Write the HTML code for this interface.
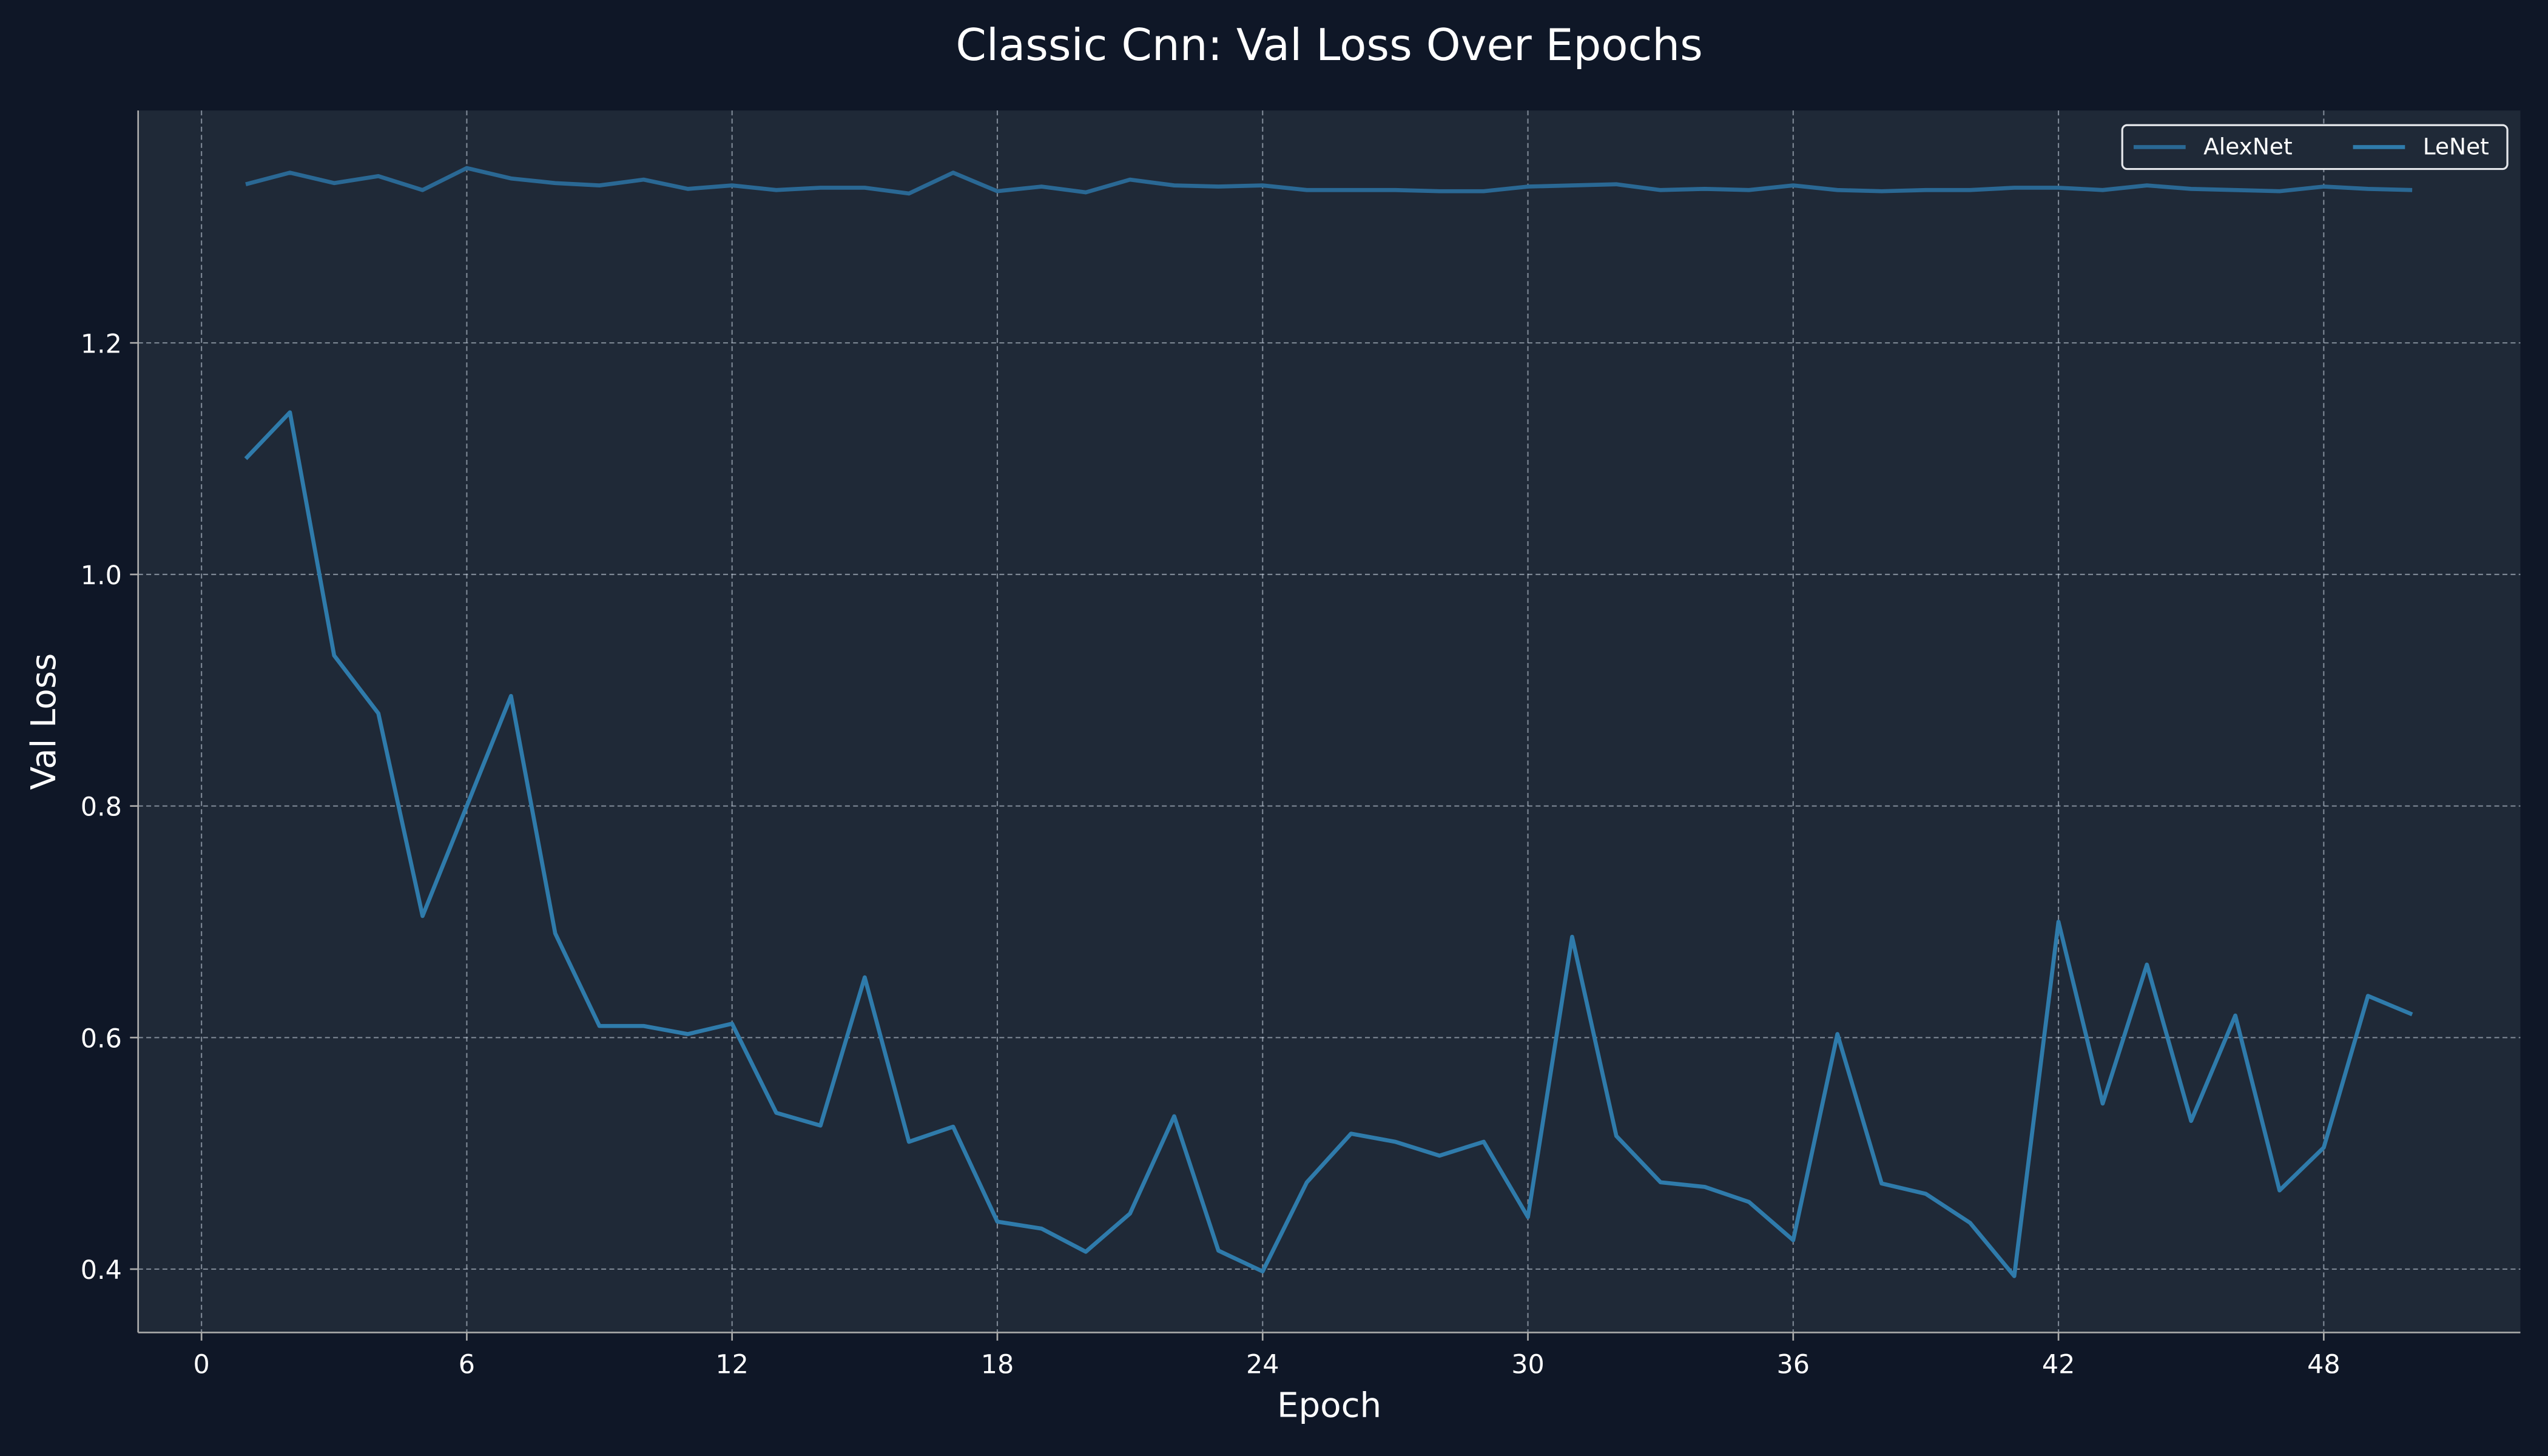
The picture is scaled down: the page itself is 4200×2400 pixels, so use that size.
<!DOCTYPE html>
<html><head><meta charset="utf-8"><style>
html,body{margin:0;padding:0;background:#0f1727;}
svg{display:block;font-family:"DejaVu Sans","Liberation Sans",sans-serif;}
</style></head><body>
<svg id="chart" width="4200" height="2400" viewBox="0 0 1568 896" xmlns="http://www.w3.org/2000/svg">
<rect x="0" y="0" width="1568" height="896" fill="#0f1727"/>
<rect x="85" y="68" width="1466" height="752" fill="#1f2937"/>
<g id="grid"></g>
<g id="axes"></g>
<g id="series"></g>
<text x="818" y="37" fill="#ffffff" font-size="27" text-anchor="middle">Classic Cnn: Val Loss Over Epochs</text>
<text x="818" y="872" fill="#ffffff" font-size="21" text-anchor="middle">Epoch</text>
<text x="34" y="444" fill="#ffffff" font-size="21" text-anchor="middle" transform="rotate(-90 34 444)">Val Loss</text>
<g>
<rect x="1306" y="77" width="237" height="27" rx="3" fill="#1f2937" stroke="#e5e7eb" stroke-width="1.2"/>
<line x1="1313" y1="90.5" x2="1345" y2="90.5" stroke="#2a6894" stroke-width="2.5"/>
<text x="1356" y="95" fill="#ffffff" font-size="14">AlexNet</text>
<line x1="1448" y1="90.5" x2="1480" y2="90.5" stroke="#2f7bab" stroke-width="2.5"/>
<text x="1491" y="95" fill="#ffffff" font-size="14">LeNet</text>
</g>
</svg>
<script>
const epochs = Array.from({length:50},(_,i)=>i+1);
const alexnet = [1.337,1.347,1.338,1.344,1.332,1.351,1.342,1.338,1.336,1.341,1.333,1.336,1.332,1.334,1.334,1.329,1.347,1.331,1.335,1.330,1.341,1.336,1.335,1.336,1.332,1.332,1.332,1.331,1.331,1.335,1.336,1.337,1.332,1.333,1.332,1.336,1.332,1.331,1.332,1.332,1.334,1.334,1.332,1.336,1.333,1.332,1.331,1.335,1.333,1.332];
const lenet = [1.10,1.14,0.93,0.88,0.705,0.80,0.895,0.69,0.61,0.61,0.603,0.612,0.535,0.524,0.652,0.51,0.523,0.441,0.435,0.415,0.448,0.532,0.416,0.398,0.475,0.517,0.51,0.498,0.51,0.445,0.687,0.515,0.475,0.471,0.458,0.425,0.603,0.474,0.465,0.44,0.394,0.70,0.543,0.663,0.528,0.619,0.468,0.505,0.636,0.62];
const xTicks = [0,6,12,18,24,30,36,42,48];
const yTicks = [0.4,0.6,0.8,1.0,1.2];
const yTickLabels = ["0.4","0.6","0.8","1.0","1.2"];

const NS="http://www.w3.org/2000/svg";
const L=85,R=1551,T=68,B=820;
function xs(v){return 124+v*(1430-124)/48;}
function ys(v){return 781-(v-0.4)*(781-211)/0.8;}
function mk(tag,attrs,parent){const e=document.createElementNS(NS,tag);for(const k in attrs)e.setAttribute(k,attrs[k]);document.getElementById(parent).appendChild(e);return e;}

xTicks.forEach(t=>{
  const g=mk('line',{x1:xs(t),x2:xs(t),y1:T,y2:B,stroke:'#cbd5e1','stroke-opacity':0.55,'stroke-width':0.8,'stroke-dasharray':'3,2'},'grid');
  
  
  const tk=mk('line',{x1:xs(t),x2:xs(t),y1:B,y2:B+5,stroke:'#aaaaaa','stroke-width':1},'axes');
  
  
  const tx=mk('text',{x:xs(t),y:B+25,fill:'#ffffff','font-size':16,'text-anchor':'middle'},'axes');
  tx.textContent=String(t);
  
  
});
yTicks.forEach((t,i)=>{
  const g=mk('line',{x1:L,x2:R,y1:ys(t),y2:ys(t),stroke:'#cbd5e1','stroke-opacity':0.55,'stroke-width':0.8,'stroke-dasharray':'3,2'},'grid');
  
  
  const tk=mk('line',{x1:L-5,x2:L,y1:ys(t),y2:ys(t),stroke:'#aaaaaa','stroke-width':1},'axes');
  
  
  const tx=mk('text',{x:L-10,y:ys(t)+6,fill:'#ffffff','font-size':16,'text-anchor':'end'},'axes');
  tx.textContent=yTickLabels[i];
  
  
});
const sp1=mk('line',{x1:L,x2:L,y1:T,y2:B,stroke:'#aaaaaa','stroke-width':1},'axes');


const sp2=mk('line',{x1:L,x2:R,y1:B,y2:B,stroke:'#aaaaaa','stroke-width':1},'axes');



function pts(arr){return arr.map((v,i)=>xs(epochs[i]).toFixed(2)+','+ys(v).toFixed(2)).join(' ');}
const a=mk('polyline',{points:pts(alexnet),fill:'none',stroke:'#2a6894','stroke-width':2.5,'stroke-linejoin':'round'},'series');


const l=mk('polyline',{points:pts(lenet),fill:'none',stroke:'#2f7bab','stroke-width':2.5,'stroke-linejoin':'round'},'series');


</script>
</body></html>
